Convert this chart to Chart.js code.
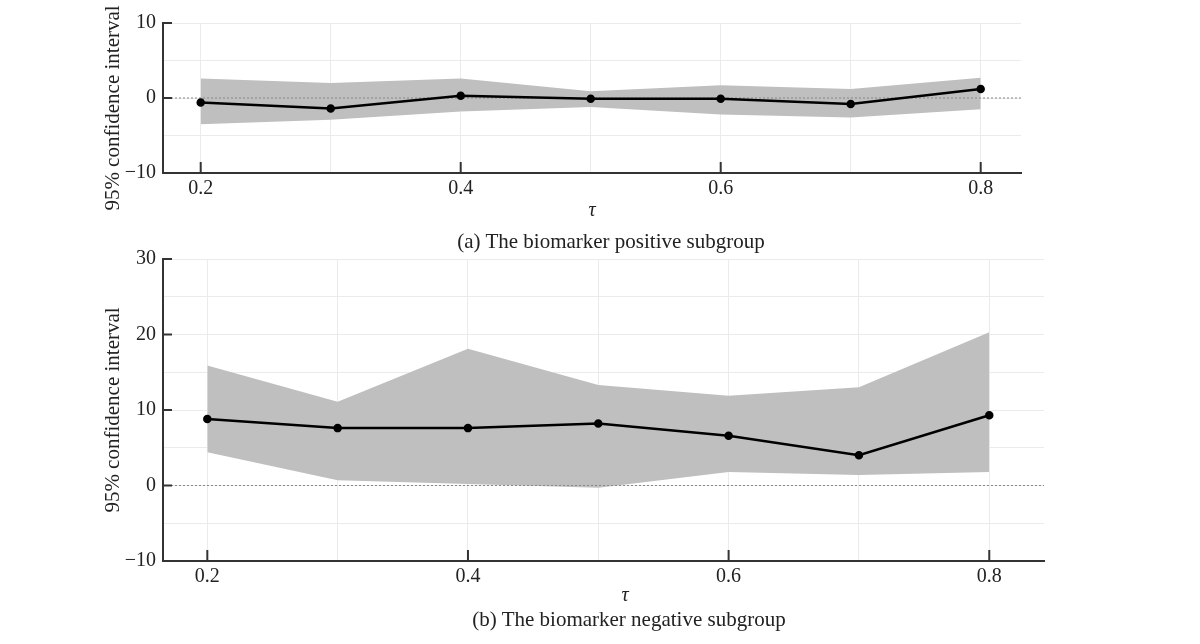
<!DOCTYPE html>
<html>
<head>
<meta charset="utf-8">
<script src="https://cdn.jsdelivr.net/npm/chart.js@4.4.1/dist/chart.umd.min.js"></script>
<style>
    body { margin: 0; background: #fff; width: 1200px; height: 644px; position: relative; overflow: hidden;
           font-family: 'Liberation Serif', 'Times New Roman', serif; color: #222; }
    .box { position: absolute; left: 0; width: 1200px; }
    .lbl { position: absolute; width: 600px; font-size: 21px; line-height: 24px; text-align: center; white-space: nowrap; }
    .tau { font-style: italic; font-size: 20px; }
    .ytitle { position: absolute; width: 300px; height: 24px; font-size: 21px; line-height: 24px; text-align: center;
              white-space: nowrap; transform: rotate(-90deg); transform-origin: 150px 12px; }
</style>
</head>
<body>
<div class="box" style="top:0px;height:222px"><canvas id="posChart"></canvas></div>
<div class="ytitle" style="left:-38px;top:96px">95% confidence interval</div>
<div class="lbl tau" style="left:292px;top:197px">τ</div>
<div class="lbl" style="left:311px;top:229px">(a) The biomarker positive subgroup</div>

<div class="box" style="top:240px;height:370px"><canvas id="negChart"></canvas></div>
<div class="ytitle" style="left:-38px;top:398px">95% confidence interval</div>
<div class="lbl tau" style="left:325px;top:582px">τ</div>
<div class="lbl" style="left:329px;top:607px">(b) The biomarker negative subgroup</div>

<script>
// quantile levels
const tau = [0.2, 0.3, 0.4, 0.5, 0.6, 0.7, 0.8]

// (a) biomarker positive subgroup
const posEstimate = [-0.6, -1.4, 0.3, -0.1, -0.1, -0.8, 1.2]
const posLower = [-3.5, -2.9, -1.8, -1.2, -2.2, -2.6, -1.5]
const posUpper = [2.6, 2.0, 2.6, 0.9, 1.7, 1.2, 2.7]

// (b) biomarker negative subgroup
const negEstimate = [8.8, 7.6, 7.6, 8.2, 6.6, 4.0, 9.3]
const negLower = [4.4, 0.7, 0.2, -0.3, 1.8, 1.4, 1.8]
const negUpper = [15.9, 11.1, 18.1, 13.3, 11.9, 13.0, 20.3]

// axis ranges and tick labels
const posXRange = [0.171, 0.831]
const negXRange = [0.166, 0.842]
const posYRange = [-10, 10]
const negYRange = [-10, 30]
const xTickLabels = [0.2, 0.4, 0.6, 0.8]
const posYTickLabels = [-10, 0, 10]
const negYTickLabels = [-10, 0, 10, 20, 30]

const FONT = "'Liberation Serif', 'Times New Roman', serif"
const AXIS_COLOR = '#333'
const GRID_COLOR = '#ebebeb'
const BAND_COLOR = '#bfbfbf'

function fmt(v) {
    return v < 0 ? '\u2212' + Math.abs(v) : String(v)
}

function toPoints(xs, ys) {
    return xs.map((x, i) => ({ x: x, y: ys[i] }))
}

// tick marks drawn inside the plot, only at labelled values
const inwardTicks = {
    id: 'inwardTicks',
    afterDraw(chart) {
        const ctx = chart.ctx
        const xs = chart.scales.x
        const ys = chart.scales.y
        ctx.save()
        ctx.strokeStyle = AXIS_COLOR
        ctx.lineWidth = 2
        xTickLabels.forEach(v => {
            const px = xs.getPixelForValue(v)
            ctx.beginPath()
            ctx.moveTo(px, xs.top)
            ctx.lineTo(px, xs.top - 11)
            ctx.stroke()
        })
        chart.config.options.plugins.inwardTicks.yLabels.forEach(v => {
            const py = ys.getPixelForValue(v)
            ctx.beginPath()
            ctx.moveTo(ys.right, py)
            ctx.lineTo(ys.right + 9, py)
            ctx.stroke()
        })
        ctx.restore()
    }
}

function makeChart(id, est, lower, upper, xRange, yRange, yLabels, padding) {
    const ctx = document.getElementById(id)
    return new Chart(ctx, {
        type: 'line',
        data: {
            datasets: [
                {
                    data: toPoints(tau, est),
                    borderColor: '#000',
                    backgroundColor: '#000',
                    borderWidth: 2.5,
                    pointRadius: 3,
                    fill: false,
                    order: 0
                },
                {
                    data: toPoints(xRange, [0, 0]),
                    borderColor: '#888',
                    borderWidth: 1,
                    borderDash: [2, 2],
                    pointRadius: 0,
                    fill: false,
                    order: 1
                },
                {
                    data: toPoints(tau, lower),
                    borderWidth: 0,
                    borderColor: 'rgba(0,0,0,0)',
                    pointRadius: 0,
                    fill: false,
                    order: 3
                },
                {
                    data: toPoints(tau, upper),
                    borderWidth: 0,
                    borderColor: 'rgba(0,0,0,0)',
                    backgroundColor: BAND_COLOR,
                    pointRadius: 0,
                    fill: '-1',
                    order: 2
                }
            ]
        },
        options: {
            responsive: true,
            maintainAspectRatio: false,
            animation: false,
            layout: { padding: padding },
            plugins: {
                legend: { display: false },
                tooltip: { enabled: false },
                inwardTicks: { yLabels: yLabels }
            },
            scales: {
                x: {
                    type: 'linear',
                    min: xRange[0],
                    max: xRange[1],
                    afterFit: (scale) => { scale.height = 49 },
                    grid: { color: GRID_COLOR, drawTicks: false },
                    border: { display: true, color: AXIS_COLOR, width: 2 },
                    ticks: {
                        stepSize: 0.1,
                        includeBounds: false,
                        autoSkip: false,
                        maxRotation: 0,
                        padding: 4,
                        color: '#222',
                        font: { family: FONT, size: 20 },
                        callback: (v) => Math.round(v * 10) % 2 === 0 ? v.toFixed(1) : ''
                    }
                },
                y: {
                    min: yRange[0],
                    max: yRange[1],
                    afterFit: (scale) => { scale.width = 67 },
                    grid: { color: GRID_COLOR, drawTicks: false },
                    border: { display: true, color: AXIS_COLOR, width: 2 },
                    ticks: {
                        stepSize: 5,
                        autoSkip: false,
                        padding: 7,
                        color: '#222',
                        font: { family: FONT, size: 20 },
                        callback: (v) => v % 10 === 0 ? fmt(v) : ''
                    }
                }
            }
        },
        plugins: [inwardTicks]
    })
}

makeChart('posChart', posEstimate, posLower, posUpper, posXRange, posYRange, posYTickLabels,
    { left: 96, right: 179, top: 23, bottom: 0 })
makeChart('negChart', negEstimate, negLower, negUpper, negXRange, negYRange, negYTickLabels,
    { left: 96, right: 156, top: 18, bottom: 0 })
</script>
</body>
</html>
